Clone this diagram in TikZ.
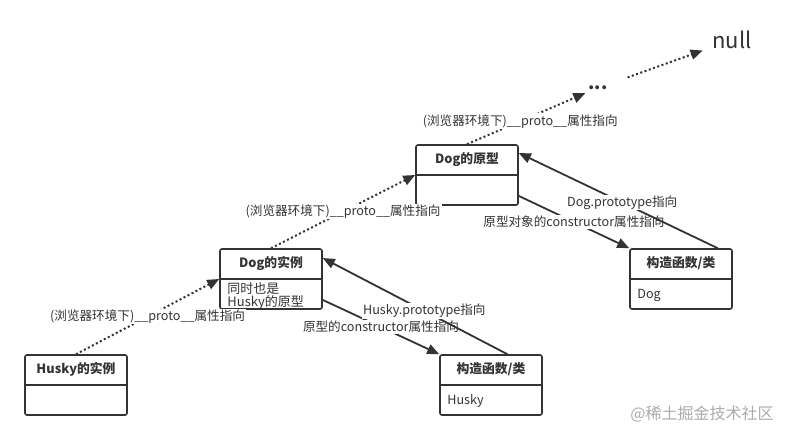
\documentclass[tikz,border=0pt]{standalone}
\usepackage{fontspec}
\setmainfont{Noto Sans CJK SC}
\usepackage{tikz}
\usetikzlibrary{arrows.meta,positioning,calc}
\definecolor{ink}{HTML}{333333}
\definecolor{mark}{HTML}{AAAAAA}

\begin{document}
\begin{tikzpicture}[
  x=1pt,y=-1pt,
  every node/.style={font=\fontsize{12.6}{13.5}\selectfont,text=ink},
  cls/.style={draw=ink,line width=1.6pt,rounded corners=2pt,minimum width=102pt,minimum height=60pt,inner sep=0pt},
  head/.style={font=\fontsize{12.8}{13.5}\selectfont\bfseries,minimum height=30pt,inner sep=0pt},
  body/.style={align=left,inner sep=2pt},
  lbl/.style={fill=white,inner sep=1pt},
  proto/.style={-{Triangle[length=12pt,width=10pt]},line width=2pt,dash pattern=on 2pt off 2.5pt,color=ink},
  link/.style={-{Triangle[length=12pt,width=10pt]},line width=1.8pt,color=ink}
]
\useasboundingbox (0,0) rectangle (790,440);

% instances and prototypes
\node[cls] (huskyinst) at (76,385) {};
\node[head,anchor=north] (huskyinsthead) at (huskyinst.north) {Husky的实例};
\draw[ink,line width=1.6pt] (huskyinst.west) -- (huskyinst.east);

\node[cls] (doginst) at (271,279) {};
\node[head,anchor=north] (doginsthead) at (doginst.north) {Dog的实例};
\draw[ink,line width=1.6pt] (doginst.west) -- (doginst.east);
\node[body,anchor=north west,font=\fontsize{13}{13.5}\selectfont] (doginstbody) at ($(doginst.west)+(6,1)$) {同时也是\\Husky的原型};

\node[cls] (dogproto) at (467,175) {};
\node[head,anchor=north] (dogprotohead) at (dogproto.north) {Dog的原型};
\draw[ink,line width=1.6pt] (dogproto.west) -- (dogproto.east);

% constructors
\node[cls] (huskyctor) at (491,385) {};
\node[head,anchor=north] (huskyctorhead) at (huskyctor.north) {构造函数/类};
\draw[ink,line width=1.6pt] (huskyctor.west) -- (huskyctor.east);
\node[body,anchor=west] (huskyctorbody) at ($(huskyctor.west)+(6,16)$) {Husky};

\node[cls] (dogctor) at (681,279) {};
\node[head,anchor=north] (dogctorhead) at (dogctor.north) {构造函数/类};
\draw[ink,line width=1.6pt] (dogctor.west) -- (dogctor.east);
\node[body,anchor=west] (dogctorbody) at ($(dogctor.west)+(6,16)$) {Dog};

\node[font=\fontsize{18}{18}\selectfont\bfseries,inner sep=3pt] (dots) at (598,88) {...};
\node[font=\fontsize{22}{22}\selectfont,inner sep=2pt] (null) at (732,40) {null};

% __proto__ chain
\draw[proto] (huskyinst.north) -- node[lbl]{(浏览器环境下)\_\_proto\_\_属性指向} (doginst.west);
\draw[proto] (doginst.north) -- node[lbl]{(浏览器环境下)\_\_proto\_\_属性指向} (dogproto.west);
\draw[proto] (dogproto.north) -- node[lbl,pos=0.45]{(浏览器环境下)\_\_proto\_\_属性指向} (dots.south west);
\draw[proto,shorten <=18pt,shorten >=8pt] (dots) -- (null);

% prototype / constructor
\draw[link] (doginst.-22) -- node[lbl]{原型的constructor属性指向} (huskyctor.north west);
\draw[link] (huskyctor.62) -- node[lbl,pos=0.45]{Husky.prototype指向} (doginst.22);
\draw[link] (dogproto.-22) -- node[lbl]{原型对象的constructor属性指向} (dogctor.north west);
\draw[link] (dogctor.40) -- node[lbl,pos=0.48]{Dog.prototype指向} (dogproto.23);

\node[text=mark,font=\fontsize{16}{16}\selectfont] (watermark) at (702,414) {@稀土掘金技术社区};
\end{tikzpicture}
\end{document}
